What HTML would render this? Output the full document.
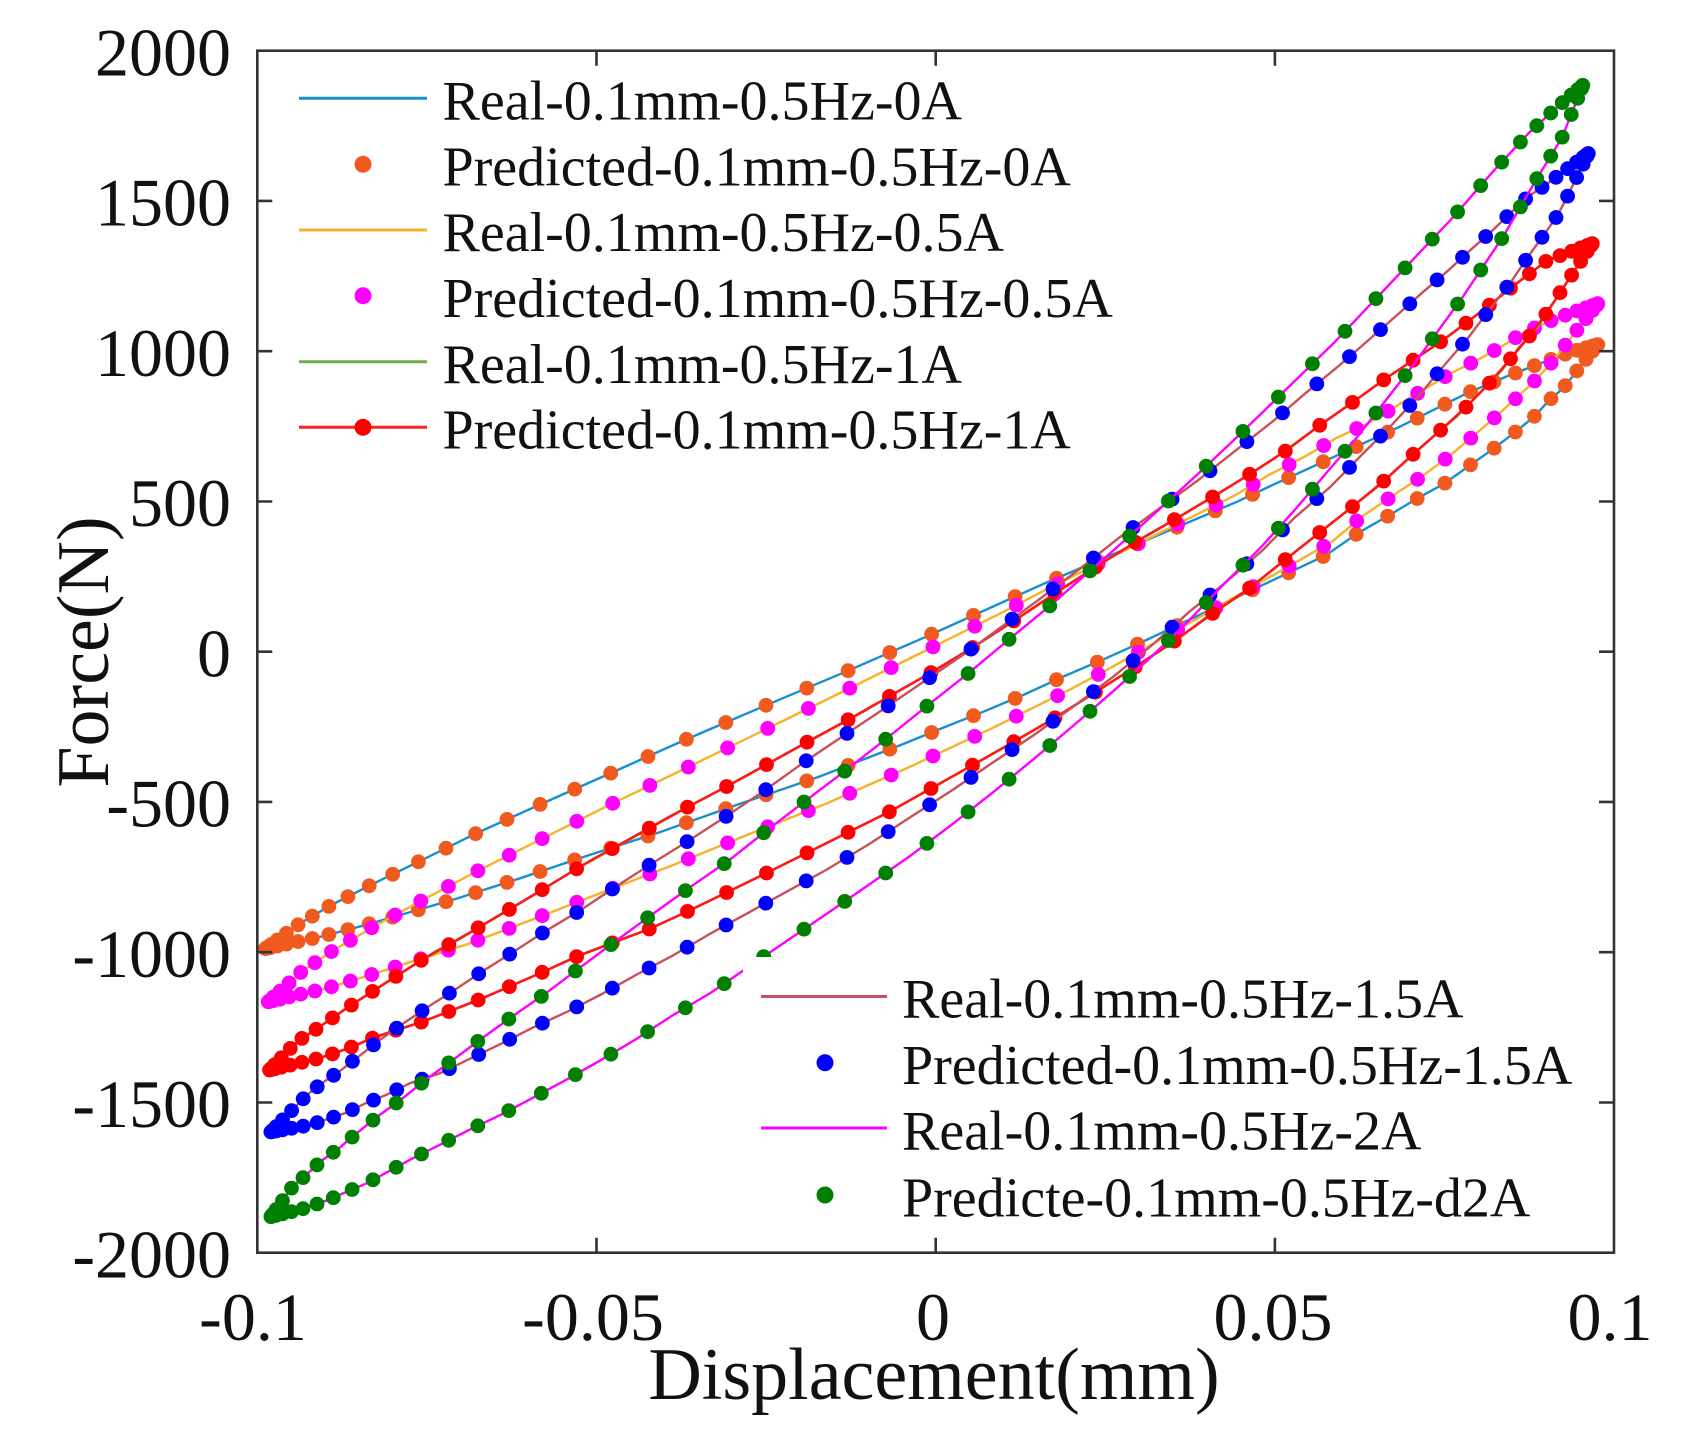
<!DOCTYPE html>
<html>
<head>
<meta charset="utf-8">
<style>
html,body{margin:0;padding:0;background:#fff;}
svg{display:block;}
text{font-family:"Liberation Serif","Times New Roman",serif;fill:#111;}
</style>
</head>
<body>
<svg id="c" xmlns="http://www.w3.org/2000/svg" width="1699" height="1446" viewBox="0 0 1699 1446">
<rect x="0" y="0" width="1699" height="1446" fill="#fff"/>
<g id="data"></g>
<!-- legend 2 background -->
<rect x="743" y="957" width="869" height="294" fill="#fff"/>

<!-- axes frame and ticks -->
<g fill="none" stroke="#333" stroke-width="2.6">
<rect x="257.3" y="50.7" width="1356.7" height="1202"/>
<path d="M257.3 200.9h15M257.3 351.2h15M257.3 501.5h15M257.3 651.7h15M257.3 801.9h15M257.3 952.2h15M257.3 1102.5h15
M1614 200.9h-15M1614 351.2h-15M1614 501.5h-15M1614 651.7h-15M1614 801.9h-15M1614 952.2h-15M1614 1102.5h-15
M596.5 1252.7v-15M935.7 1252.7v-15M1274.9 1252.7v-15
M596.5 50.7v15M935.7 50.7v15M1274.9 50.7v15"/>
</g>

<!-- y tick labels -->
<g font-size="68" text-anchor="end">
<text x="231" y="75.5">2000</text>
<text x="231" y="225.5">1500</text>
<text x="231" y="375.8">1000</text>
<text x="231" y="526">500</text>
<text x="231" y="676.3">0</text>
<text x="231" y="826.5">-500</text>
<text x="231" y="976.8">-1000</text>
<text x="231" y="1127">-1500</text>
<text x="231" y="1277.3">-2000</text>
</g>
<!-- x tick labels -->
<g font-size="68" text-anchor="middle">
<text x="253" y="1340">-0.1</text>
<text x="593" y="1340">-0.05</text>
<text x="933" y="1340">0</text>
<text x="1273" y="1340">0.05</text>
<text x="1610" y="1340">0.1</text>
</g>
<!-- axis labels -->
<text x="934" y="1399" font-size="74" text-anchor="middle">Displacement(mm)</text>
<text transform="translate(108,652) rotate(-90)" x="0" y="0" font-size="74" text-anchor="middle">Force(N)</text>

<!-- legend 1 -->
<g font-size="56">
<line x1="299" y1="98.3" x2="427" y2="98.3" stroke="#1890D0" stroke-width="3"/>
<text x="442.5" y="119.5">Real-0.1mm-0.5Hz-0A</text>
<circle cx="363" cy="164.3" r="8.5" fill="#F05A1E"/>
<text x="442.5" y="185.5">Predicted-0.1mm-0.5Hz-0A</text>
<line x1="299" y1="230" x2="427" y2="230" stroke="#F5B22A" stroke-width="3"/>
<text x="442.5" y="251.2">Real-0.1mm-0.5Hz-0.5A</text>
<circle cx="363" cy="295.7" r="8.5" fill="#FF00FF"/>
<text x="442.5" y="317">Predicted-0.1mm-0.5Hz-0.5A</text>
<line x1="299" y1="361.7" x2="427" y2="361.7" stroke="#70AD47" stroke-width="3"/>
<text x="442.5" y="383">Real-0.1mm-0.5Hz-1A</text>
<line x1="299" y1="427.3" x2="427" y2="427.3" stroke="#FF2020" stroke-width="3"/>
<circle cx="363" cy="427.3" r="8.5" fill="#FF0000"/>
<text x="442.5" y="448.5">Predicted-0.1mm-0.5Hz-1A</text>
</g>

<!-- legend 2 -->
<g font-size="56">
<line x1="761" y1="996.5" x2="887" y2="996.5" stroke="#C8505A" stroke-width="3"/>
<text x="902" y="1017.5">Real-0.1mm-0.5Hz-1.5A</text>
<circle cx="825" cy="1062.7" r="8.5" fill="#0000FF"/>
<text x="902" y="1084">Predicted-0.1mm-0.5Hz-1.5A</text>
<line x1="761" y1="1128" x2="887" y2="1128" stroke="#FF00FF" stroke-width="3"/>
<text x="902" y="1149.5">Real-0.1mm-0.5Hz-2A</text>
<circle cx="825" cy="1195" r="8.5" fill="#008000"/>
<text x="902" y="1216.5">Predicte-0.1mm-0.5Hz-d2A</text>
</g>
</svg>

<script>
(function(){
var NS="http://www.w3.org/2000/svg";
function X(x){return 935.7+x*6783.5;}
function Y(f){return 651.7-f*0.3005;}
function interp(a,x){
  if(x<=a[0][0])return a[0][1];
  for(var i=1;i<a.length;i++){
    if(x<=a[i][0]){var x0=a[i-1][0],y0=a[i-1][1],x1=a[i][0],y1=a[i][1];return y0+(y1-y0)*(x-x0)/(x1-x0);}
  }
  return a[a.length-1][1];
}
var loops=[
{real:"#1890D0",pred:"#F05A1E",pline:null,
U:[[-0.0988,-988],[-0.0937,-904],[-0.0891,-843],[-0.083,-773],[-0.0757,-693],[-0.0675,-602],[-0.0582,-507],[-0.048,-405],[-0.037,-294],[-0.0255,-183],[-0.0136,-70],[-0.0016,48],[0.0103,169],[0.0163,230],[0.0444,499],[0.0497,555],[0.0689,754],[0.0783,860],[0.0847,921],[0.0905,971],[0.094,1000],[0.0976,1022]],
L:[[-0.0988,-988],[-0.0906,-948],[-0.085,-915],[-0.0781,-871],[-0.0705,-821],[-0.0613,-754],[-0.0511,-677],[-0.0406,-600],[-0.029,-507],[-0.0172,-416],[-0.0051,-310],[0.0009,-255],[0.007,-200],[0.0129,-144],[0.0188,-83],[0.0248,-25],[0.0305,33],[0.0576,322],[0.0622,394],[0.0669,455],[0.071,510],[0.075,560],[0.0788,621],[0.0823,677],[0.0855,732],[0.0882,782],[0.0905,838],[0.0925,877],[0.0976,1022]]},
{real:"#F5B22A",pred:"#FF00FF",pline:null,
U:[[-0.0984,-1165],[-0.0935,-1065],[-0.0889,-995],[-0.083,-917],[-0.0761,-832],[-0.068,-735],[-0.0586,-629],[-0.0484,-513],[-0.0377,-397],[-0.0263,-272],[-0.0147,-144],[-0.0028,-11],[0.0096,128],[0.0157,200],[0.0442,521],[0.0491,588],[0.0544,649],[0.059,710],[0.0637,760],[0.0678,816],[0.0759,926],[0.0803,976],[0.0838,1021],[0.0864,1058],[0.0905,1100],[0.094,1130],[0.0976,1158]],
L:[[-0.0984,-1165],[-0.0898,-1120],[-0.0841,-1081],[-0.0777,-1035],[-0.069,-973],[-0.0602,-898],[-0.0502,-810],[-0.0393,-715],[-0.0278,-610],[-0.0161,-505],[-0.004,-385],[0.0083,-255],[0.0201,-122],[0.0261,-50],[0.0584,366],[0.0628,449],[0.0675,521],[0.0716,582],[0.0756,649],[0.0791,715],[0.0823,777],[0.0853,838],[0.0882,899],[0.0905,954],[0.0976,1158]]},
{real:"#70AD47",pred:"#FF0000",pline:"#FF1A1A",
U:[[-0.0982,-1392],[-0.0942,-1298],[-0.0919,-1265],[-0.0894,-1226],[-0.0869,-1187],[-0.0838,-1142],[-0.0806,-1095],[-0.0773,-1048],[-0.0738,-998],[-0.07,-954],[-0.0657,-895],[-0.0609,-832],[-0.0557,-760],[-0.0504,-688],[-0.0448,-621],[-0.0393,-549],[-0.0337,-483],[-0.0281,-416],[-0.022,-338],[-0.0161,-266],[-0.0101,-192],[-0.0042,-114],[0.0017,-39],[0.0076,45],[0.0136,133],[0.0193,220],[0.0252,305],[0.0308,383],[0.0364,455],[0.0417,527],[0.0469,599],[0.0519,673],[0.057,760],[0.0616,832],[0.066,904],[0.0748,1037],[0.0788,1104],[0.0823,1165],[0.0853,1220],[0.0879,1264],[0.0902,1303],[0.0968,1358]],
L:[[-0.0982,-1392],[-0.0909,-1353],[-0.0883,-1334],[-0.0854,-1309],[-0.0823,-1279],[-0.0756,-1231],[-0.0715,-1195],[-0.0672,-1157],[-0.0626,-1112],[-0.0578,-1065],[-0.0524,-1009],[-0.0419,-920],[-0.0363,-861],[-0.0307,-800],[-0.025,-737],[-0.0191,-671],[-0.0132,-604],[-0.007,-535],[-0.001,-459],[0.005,-383],[0.0111,-305],[0.0171,-227],[0.0229,-144],[0.0287,-61],[0.0344,22],[0.0397,111],[0.0453,194],[0.0504,286],[0.0555,377],[0.0605,466],[0.0649,544],[0.0689,627],[0.073,710],[0.0768,782],[0.0835,937],[0.0861,1016],[0.0888,1082],[0.0905,1143],[0.0923,1204],[0.0968,1358]]},
{real:"#C8505A",pred:"#0000FF",pline:null,
U:[[-0.098,-1598],[-0.0927,-1475],[-0.0905,-1436],[-0.088,-1398],[-0.0854,-1353],[-0.0823,-1298],[-0.0788,-1242],[-0.0752,-1187],[-0.0711,-1128],[-0.0669,-1065],[-0.0622,-998],[-0.0577,-932],[-0.0525,-862],[-0.0475,-787],[-0.042,-707],[-0.0365,-630],[-0.0307,-545],[-0.0251,-460],[-0.0193,-366],[-0.0134,-277],[-0.0075,-188],[-0.0018,-100],[0.004,-11],[0.0096,81],[0.0155,178],[0.0213,277],[0.0269,377],[0.0387,571],[0.0443,671],[0.0496,765],[0.0545,860],[0.0593,949],[0.0638,1037],[0.068,1120],[0.0719,1198],[0.0755,1268],[0.0787,1334],[0.0819,1398],[0.0847,1459],[0.0873,1514],[0.0899,1553],[0.0962,1658]],
L:[[-0.098,-1598],[-0.0922,-1575],[-0.0897,-1556],[-0.0869,-1534],[-0.0841,-1503],[-0.081,-1475],[-0.0775,-1436],[-0.0731,-1403],[-0.0688,-1356],[-0.0642,-1306],[-0.0593,-1250],[-0.0543,-1198],[-0.0492,-1139],[-0.0442,-1076],[-0.0389,-1013],[-0.0336,-943],[-0.0282,-876],[-0.0224,-804],[-0.0163,-728],[-0.01,-643],[-0.0037,-550],[0.0025,-460],[0.0086,-366],[0.0145,-277],[0.0204,-181],[0.0262,-83],[0.0319,22],[0.0374,133],[0.0426,228],[0.0482,338],[0.0528,444],[0.0582,549],[0.0628,655],[0.0672,754],[0.0713,854],[0.075,954],[0.0786,1048],[0.0818,1143],[0.085,1237],[0.0873,1314],[0.0898,1392],[0.0917,1453],[0.0931,1514],[0.0962,1658]]},
{real:"#FF00FF",pred:"#008000",pline:null,
U:[[-0.098,-1880],[-0.0948,-1780],[-0.0928,-1741],[-0.0907,-1697],[-0.088,-1653],[-0.0854,-1603],[-0.0823,-1547],[-0.0788,-1490],[-0.0751,-1423],[-0.0711,-1357],[-0.0669,-1287],[-0.0623,-1212],[-0.0575,-1137],[-0.0526,-1054],[-0.0473,-965],[-0.0419,-876],[-0.0361,-782],[-0.0304,-693],[-0.0248,-593],[-0.019,-493],[-0.0132,-394],[-0.0072,-288],[-0.0013,-181],[0.0048,-72],[0.0107,39],[0.0167,150],[0.0226,266],[0.0282,377],[0.0334,483],[0.039,599],[0.044,705],[0.0493,821],[0.0589,1032],[0.0675,1237],[0.0759,1437],[0.0826,1609],[0.0876,1730],[0.0928,1836],[0.0954,1885]],
L:[[-0.098,-1880],[-0.0939,-1858],[-0.0916,-1841],[-0.0893,-1822],[-0.0868,-1797],[-0.0839,-1769],[-0.0807,-1730],[-0.0771,-1686],[-0.0731,-1641],[-0.069,-1594],[-0.0642,-1542],[-0.0595,-1486],[-0.0545,-1425],[-0.0495,-1361],[-0.0442,-1290],[-0.0389,-1212],[-0.0333,-1137],[-0.0218,-960],[-0.0156,-865],[-0.0097,-773],[-0.0036,-677],[0.0025,-573],[0.0084,-469],[0.0143,-360],[0.0204,-244],[0.0261,-133],[0.0318,-17],[0.0374,105],[0.0426,228],[0.0479,346],[0.0527,466],[0.0622,716],[0.0704,954],[0.0777,1181],[0.0838,1387],[0.0885,1570],[0.0923,1709],[0.0954,1885]]}
];
var g=document.getElementById("data");
function mk(tag,attrs){var e=document.createElementNS(NS,tag);for(var k in attrs)e.setAttribute(k,attrs[k]);return e;}
function pstr(pts){var s="";for(var i=0;i<pts.length;i++){s+=(i?"L":"M")+X(pts[i][0]).toFixed(1)+" "+Y(pts[i][1]).toFixed(1);}return s;}
loops.forEach(function(o){
  var xL=o.U[0][0],xR=o.U[o.U.length-1][0];
  var xc=(xL+xR)/2,A=(xR-xL)/2;
  var pts=o.U.slice();
  for(var i=o.L.length-2;i>=1;i--)pts.push(o.L[i]);
  g.appendChild(mk("path",{d:pstr(pts)+"Z",fill:"none",stroke:o.real,"stroke-width":"2.4","stroke-linejoin":"round"}));
  var m=[],N=50,k,x;
  for(k=0;k<N;k++){x=xc-A*Math.cos(k*Math.PI/N);m.push([x,interp(o.U,x)]);}
  for(k=0;k<N;k++){x=xc+A*Math.cos(k*Math.PI/N);m.push([x,interp(o.L,x)]);}
  if(o.pline){
    g.appendChild(mk("path",{d:pstr(m)+"Z",fill:"none",stroke:o.pline,"stroke-width":"2.6","stroke-linejoin":"round"}));
  }
  var gg=mk("g",{fill:o.pred});
  m.forEach(function(p){gg.appendChild(mk("circle",{cx:X(p[0]).toFixed(1),cy:Y(p[1]).toFixed(1),r:"7.4"}));});
  g.appendChild(gg);
});
})();
</script>
</body>
</html>
